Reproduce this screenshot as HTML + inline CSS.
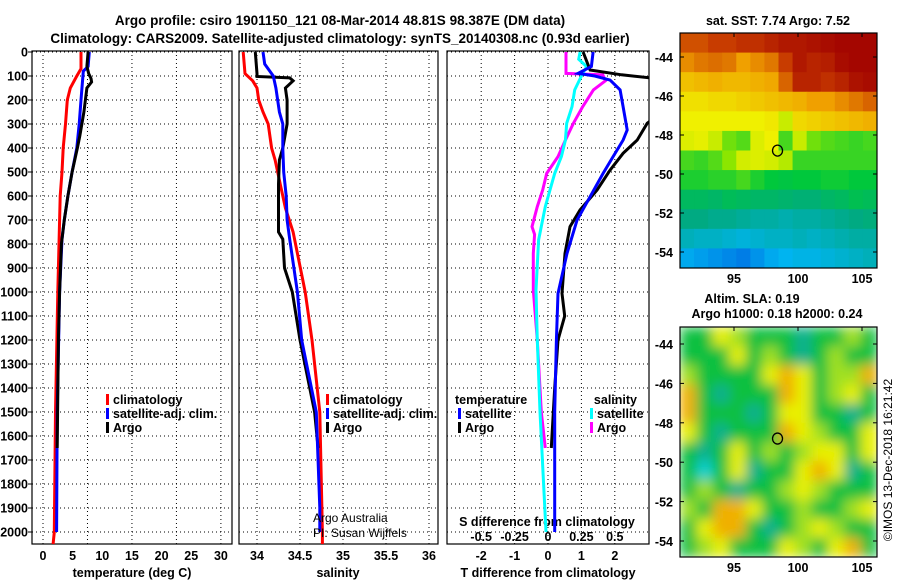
<!DOCTYPE html>
<html><head><meta charset="utf-8">
<style>
html,body{margin:0;padding:0;background:#fff;}
svg{display:block;font-family:"Liberation Sans",sans-serif;}
.b{font-weight:bold;font-size:12.5px;}
.t{font-weight:bold;font-size:13.5px;}
.n{font-weight:normal;font-size:12px;}
</style></head>
<body>
<svg id="chart" width="900" height="580" viewBox="0 0 900 580">
<defs>
<filter id="blur" x="0" y="0" width="100%" height="100%"><feGaussianBlur stdDeviation="6"/></filter>
<clipPath id="clipA"><rect x="32" y="51" width="200" height="493"/></clipPath>
<clipPath id="clipB"><rect x="239" y="51" width="199" height="493"/></clipPath>
<clipPath id="clipC"><rect x="447" y="51" width="202" height="493"/></clipPath>
<clipPath id="clipM1"><rect x="680" y="33" width="197" height="235"/></clipPath>
<clipPath id="clipM2"><rect x="680" y="327" width="197" height="230"/></clipPath>
</defs>
<text class="t" x="340" y="25" text-anchor="middle">Argo profile: csiro 1901150_121 08-Mar-2014 48.81S 98.387E (DM data)</text>
<text class="t" x="340" y="43" text-anchor="middle">Climatology: CARS2009. Satellite-adjusted climatology: synTS_20140308.nc (0.93d earlier)</text>
<g id="g"></g>
<text x="0" y="0" transform="translate(892,460) rotate(-90)" text-anchor="middle" font-size="12">©IMOS 13-Dec-2018 16:21:42</text>
</svg>
<script>
// ---------- data ----------
var tempClimDepth=[0,70,100,150,200,300,400,500,600,700,1000,1500,2000,2050];
var tempClim=[6.4,6.4,5.7,4.6,4.1,3.8,3.4,3.2,2.9,2.8,2.5,2.1,1.9,1.7];
var tempSatDepth=[0,60,80,200,300,400,500,600,700,780,1000,1500,2000];
var tempSat=[7.8,7.6,6.8,6.4,6.1,5.7,4.9,4.2,3.6,3.2,2.8,2.4,2.3];
var tempArgoDepth=[0,60,90,110,125,150,250,350,400,500,600,700,800,1000,1200,1650];
var tempArgo=[7.6,7.4,7.7,8.1,8.2,7.4,6.9,6.2,5.8,4.9,4.2,3.6,3.1,2.8,2.6,2.4];

var salClimDepth=[0,90,120,150,200,250,300,400,450,550,650,750,1000,1200,1500,2000,2050];
var salClim=[33.84,33.86,33.95,34.0,34.02,34.07,34.13,34.17,34.21,34.27,34.33,34.42,34.56,34.64,34.73,34.76,34.76];
var salSatDepth=[0,50,100,150,250,300,400,500,600,700,780,1000,1200,1500,1900,2000];
var salSat=[34.07,34.09,34.19,34.22,34.26,34.3,34.3,34.31,34.34,34.35,34.38,34.47,34.52,34.69,34.73,34.73];
var salArgoDepth=[0,90,102,108,120,150,200,300,400,450,550,650,750,780,900,1000,1200,1500,1650];
var salArgo=[33.98,34.0,34.0,34.38,34.42,34.33,34.35,34.35,34.3,34.26,34.25,34.25,34.25,34.3,34.32,34.41,34.5,34.67,34.71];

var tdSatDepth=[0,60,89,100,117,158,228,325,367,436,506,603,700,839,1006,1200,1500,2000];
var tdSat=[1.35,1.3,0.9,1.4,1.86,2.16,2.25,2.37,2.25,1.95,1.65,1.26,0.87,0.57,0.3,0.25,0.2,0.2];
var tdArgoDepth=[0,75,95,110,150,250,297,367,422,492,575,658,728,839,1006,1100,1200,1400,1650];
var tdArgo=[1.05,1.26,2.2,3.2,3.4,3.4,2.97,2.67,2.25,1.86,1.47,0.96,0.66,0.51,0.42,0.5,0.3,0.2,0.1];
var sdArgoDepth=[0,89,95,120,158,228,297,367,436,506,575,644,728,760,839,992,1200,1500,1650];
var sdArgo=[0.135,0.135,0.41,0.43,0.34,0.26,0.19,0.13,0.075,-0.01,-0.04,-0.08,-0.12,-0.1,-0.11,-0.11,-0.08,-0.05,-0.02];
var sdSatDepth=[0,30,61,89,158,228,297,367,436,506,644,783,992,1200,1500,2000];
var sdSat=[0.24,0.23,0.29,0.26,0.2,0.18,0.14,0.13,0.1,0.05,-0.02,-0.07,-0.09,-0.08,-0.06,-0.015];

var depthTicks=[0,100,200,300,400,500,600,700,800,900,1000,1100,1200,1300,1400,1500,1600,1700,1800,1900,2000];
var tempTicks=[0,5,10,15,20,25,30];
var salTicks=[34,34.5,35,35.5,36];
var tdTicks=[-2,-1,0,1,2];
var sdTicks=[-0.5,-0.25,0,0.25,0.5];
var latTicks=[-44,-46,-48,-50,-52,-54];
var lonTicks=[95,100,105];
var floatLon=98.4, floatLat=-48.8;

var sstGrid=[
[1.2,1.2,1.0,1.0,0.8,0.8,0.6,0.4,0.4,0.3,0.2,0.1,0.1,0.1],
[1.8,1.6,1.5,1.6,2.0,1.8,1.6,1.0,0.4,0.6,0.5,0.2,0.1,0.1],
[2.4,2.3,2.2,2.3,2.3,2.2,2.1,1.4,0.6,0.6,0.8,0.6,0.3,0.2],
[2.8,2.8,2.7,2.7,2.6,2.5,2.4,2.3,2.2,2.0,2.0,1.8,1.6,1.4],
[3.0,3.0,3.0,3.0,3.0,3.0,2.9,3.4,2.7,2.6,2.5,2.4,2.3,2.2],
[3.2,3.1,3.4,4.2,4.4,3.2,3.0,4.5,3.4,4.2,4.4,4.5,4.6,4.5],
[4.5,4.6,4.4,4.0,3.3,3.2,3.3,3.6,4.6,4.6,4.6,4.6,4.6,4.6],
[4.8,4.8,4.7,4.7,4.5,4.8,5.0,5.1,5.0,5.0,4.9,4.9,5.0,5.0],
[5.5,5.5,5.6,5.4,5.5,5.6,5.6,5.7,5.8,5.8,5.6,5.5,5.3,5.4],
[6.0,6.0,6.1,6.1,6.2,6.3,6.3,6.4,6.3,6.3,6.2,6.1,6.0,5.9],
[6.5,6.6,6.6,6.7,6.8,6.7,6.6,6.6,6.5,6.6,6.5,6.4,6.3,6.3],
[7.1,7.2,7.3,7.4,7.5,7.3,7.1,7.0,6.9,6.9,6.8,6.7,6.6,6.5]];
var slaGrid=[
[0,0,2,1,0,0,0,-1,0,0,1,0],
[0,0,0,2,0,1,0,-1,0,1,0,0],
[1,0,0,0,0,2,3,2,0,1,1,3],
[3,0,-1,0,0,0,3,2,0,1,2,0],
[3,0,0,0,-1,0,2,2,0,0,-1,0],
[2,0,-1,0,0,0,3,2,1,0,0,2],
[0,-1,0,2,0,1,0,1,2,2,0,2],
[0,-2,0,2,-1,0,0,2,3,2,-1,0],
[0,1,0,-1,0,0,1,2,1,0,0,0],
[1,0,3,3,2,0,0,1,0,0,1,2],
[0,2,3,3,0,-1,0,1,2,1,0,0],
[0,1,2,0,0,0,2,1,0,2,3,0]];

// ---------- helpers ----------
var NS="http://www.w3.org/2000/svg";
var root=document.getElementById('g');
function mk(tag,attrs,parent){var e=document.createElementNS(NS,tag);for(var k in attrs)e.setAttribute(k,attrs[k]);(parent||root).appendChild(e);return e;}
function yD(d){return 52+d*0.24;}
var xT=function(v){return 43+v*5.93;};
var xS=function(v){return 257+(v-34)*86;};
var xTD=function(v){return 548+v*33.4;};
var xSD=function(v){return 548+v*133.6;};
var latY1=function(l){return 57+(-44-l)*19.5;};
var latY2=function(l){return 344+(-44-l)*19.7;};
var lonX=function(lo){return 734+(lo-95)*12.8;};

function panel(x0,x1,gridXs,name){
  var f=mk('rect',{x:x0,y:51,width:x1-x0,height:493,fill:'#fff',stroke:'#000','stroke-width':1.2});
  
  
  depthTicks.forEach(function(d){
    var l=mk('line',{x1:x0,x2:x1,y1:yD(d),y2:yD(d),stroke:'#000','stroke-width':1,'stroke-dasharray':'1,3'});
    
    
  });
  gridXs.forEach(function(x){
    var l=mk('line',{x1:x,x2:x,y1:51,y2:544,stroke:'#000','stroke-width':1,'stroke-dasharray':'1,3'});
    
    
  });
}
function series(ds,vs,fx,color,clip,name){
  var pts=ds.map(function(d,i){return fx(vs[i]).toFixed(1)+','+yD(d).toFixed(1);}).join(' ');
  var p=mk('polyline',{points:pts,fill:'none',stroke:color,'stroke-width':3,'clip-path':'url(#'+clip+')'});
  
  
}
function txt(s,x,y,anchor,cls,name){
  var t=mk('text',{x:x,y:y,'text-anchor':anchor||'start','class':cls});
  t.textContent=s;
  
  
  return t;
}
function legend(x,y,color,label,name){
  var r=mk('rect',{x:x,y:y-10,width:3,height:11,fill:color});
  
  
  txt(label,x+7,y,'start','b',name);
}

// ---------- panels ----------
panel(32,232,[0,7.5,15,22.5,30].map(xT),'temperature-panel');
panel(239,438,salTicks.map(xS),'salinity-panel');
panel(447,649,tdTicks.map(xTD),'difference-panel');

depthTicks.forEach(function(d){
  txt(String(d),28,yD(d)+4.5,'end','b','depth-tick-label');
  var t=mk('line',{x1:28,x2:32,y1:yD(d),y2:yD(d),stroke:'#000'});
  
  
});
tempTicks.forEach(function(v){txt(String(v),xT(v),560,'middle','b','temperature-tick-label');});
salTicks.forEach(function(v){txt(String(v),xS(v),560,'middle','b','salinity-tick-label');});
tdTicks.forEach(function(v){txt(String(v),xTD(v),560,'middle','b','t-diff-tick-label');});
sdTicks.forEach(function(v){txt(String(v),xSD(v),541,'middle','b','s-diff-tick-label');});
txt('temperature (deg C)',132,577,'middle','b','temperature-axis-title');
txt('salinity',338,577,'middle','b','salinity-axis-title');
txt('T difference from climatology',548,577,'middle','b','t-diff-axis-title');
txt('S difference from climatology',547,526,'middle','b','s-diff-axis-title');

series(tempClimDepth,tempClim,xT,'#f00','clipA','temperature-climatology-line');
series(tempSatDepth,tempSat,xT,'#00f','clipA','temperature-satellite-line');
series(tempArgoDepth,tempArgo,xT,'#000','clipA','temperature-argo-line');
series(salClimDepth,salClim,xS,'#f00','clipB','salinity-climatology-line');
series(salArgoDepth,salArgo,xS,'#000','clipB','salinity-argo-line');
series(salSatDepth,salSat,xS,'#00f','clipB','salinity-satellite-line');
series(sdArgoDepth,sdArgo,xSD,'#f0f','clipC','s-diff-argo-line');
series(sdSatDepth,sdSat,xSD,'#0ff','clipC','s-diff-satellite-line');
series(tdArgoDepth,tdArgo,xTD,'#000','clipC','t-diff-argo-line');
series(tdSatDepth,tdSat,xTD,'#00f','clipC','t-diff-satellite-line');

legend(106,404,'#f00','climatology','temp-legend-climatology');
legend(106,418,'#00f','satellite-adj. clim.','temp-legend-satellite');
legend(106,432,'#000','Argo','temp-legend-argo');
legend(326,404,'#f00','climatology','sal-legend-climatology');
legend(326,418,'#00f','satellite-adj. clim.','sal-legend-satellite');
legend(326,432,'#000','Argo','sal-legend-argo');
txt('temperature',455,404,'start','b','diff-legend-temperature-heading');
legend(458,418,'#00f','satellite','diff-legend-t-satellite');
legend(458,432,'#000','Argo','diff-legend-t-argo');
txt('salinity',637,404,'end','b','diff-legend-salinity-heading');
legend(590,418,'#0ff','satellite','diff-legend-s-satellite');
legend(590,432,'#f0f','Argo','diff-legend-s-argo');
txt('Argo Australia',313,522,'start','n','credit-argo-australia');
txt('PI: Susan Wijffels',313,537,'start','n','credit-pi');

// ---------- maps ----------
var sstStops=[[160,0,0],[200,60,0],[240,160,0],[240,240,0],[140,230,0],[0,200,60],[0,170,130],[0,180,240],[0,70,220],[0,0,140]];
function sstCol(v){var i=Math.max(0,Math.min(8.999,v));var a=Math.floor(i),f=i-a;var c0=sstStops[a],c1=sstStops[a+1];
  return 'rgb('+c0.map(function(c,k){return Math.round(c+(c1[k]-c)*f);}).join(',')+')';}
var slaCols={'-2':'#10d0d0','-1':'#10b090','0':'#10c040','1':'#a0e020','2':'#e8f000','3':'#f0b000'};
function mapGroup(name,clip){
  var g=mk('g',{'clip-path':'url(#'+clip+')'});
  
  
  return g;
}
var g1=mapGroup('sst-map','clipM1');
var cw1=197/sstGrid[0].length, ch1=235/sstGrid.length;
sstGrid.forEach(function(row,r){row.forEach(function(v,c){
  var e=mk('rect',{x:680+c*cw1,y:33+r*ch1,width:cw1+0.6,height:ch1+0.6,fill:sstCol(v)},g1);
  
  
});});
var g2=mapGroup('sla-map','clipM2');
var gb=mk('g',{filter:'url(#blur)'},g2);
var cw2=197/slaGrid[0].length, ch2=230/slaGrid.length;
mk('rect',{x:680,y:327,width:197,height:230,fill:'#10c040'},gb);
slaGrid.forEach(function(row,r){row.forEach(function(v,c){
  var e=mk('rect',{x:680+c*cw2,y:327+r*ch2,width:cw2+0.6,height:ch2+0.6,fill:slaCols[String(v)]},gb);
  
  
});});
[[33,235,latY1,'sst'],[327,230,latY2,'sla']].forEach(function(m){
  var fr=mk('rect',{x:680,y:m[0],width:197,height:m[1],fill:'none',stroke:'#000','stroke-width':1.2});
  
  
  latTicks.forEach(function(l){
    txt(String(l),673,m[2](l)+5,'end','b',m[3]+'-lat-label');
    var t1=mk('line',{x1:680,x2:684,y1:m[2](l),y2:m[2](l),stroke:'#000'});
    
    
    var t2=mk('line',{x1:873,x2:877,y1:m[2](l),y2:m[2](l),stroke:'#000'});
    
    
  });
  lonTicks.forEach(function(lo){
    txt(String(lo),lonX(lo),m[0]+m[1]+15,'middle','b',m[3]+'-lon-label');
    var t=mk('line',{x1:lonX(lo),x2:lonX(lo),y1:m[0],y2:m[0]+4,stroke:'#000'});
    
    
  });
  var c=mk('ellipse',{cx:lonX(floatLon),cy:m[2](floatLat),rx:5,ry:5.5,fill:'none',stroke:'#000','stroke-width':1.3});
  
  
});
txt('sat. SST: 7.74 Argo: 7.52',778,25,'middle','b','sst-map-title');
txt('Altim. SLA: 0.19',752,303,'middle','b','sla-map-title');
txt('Argo h1000: 0.18 h2000: 0.24',777,318,'middle','b','sla-map-subtitle');
</script>
</body></html>
